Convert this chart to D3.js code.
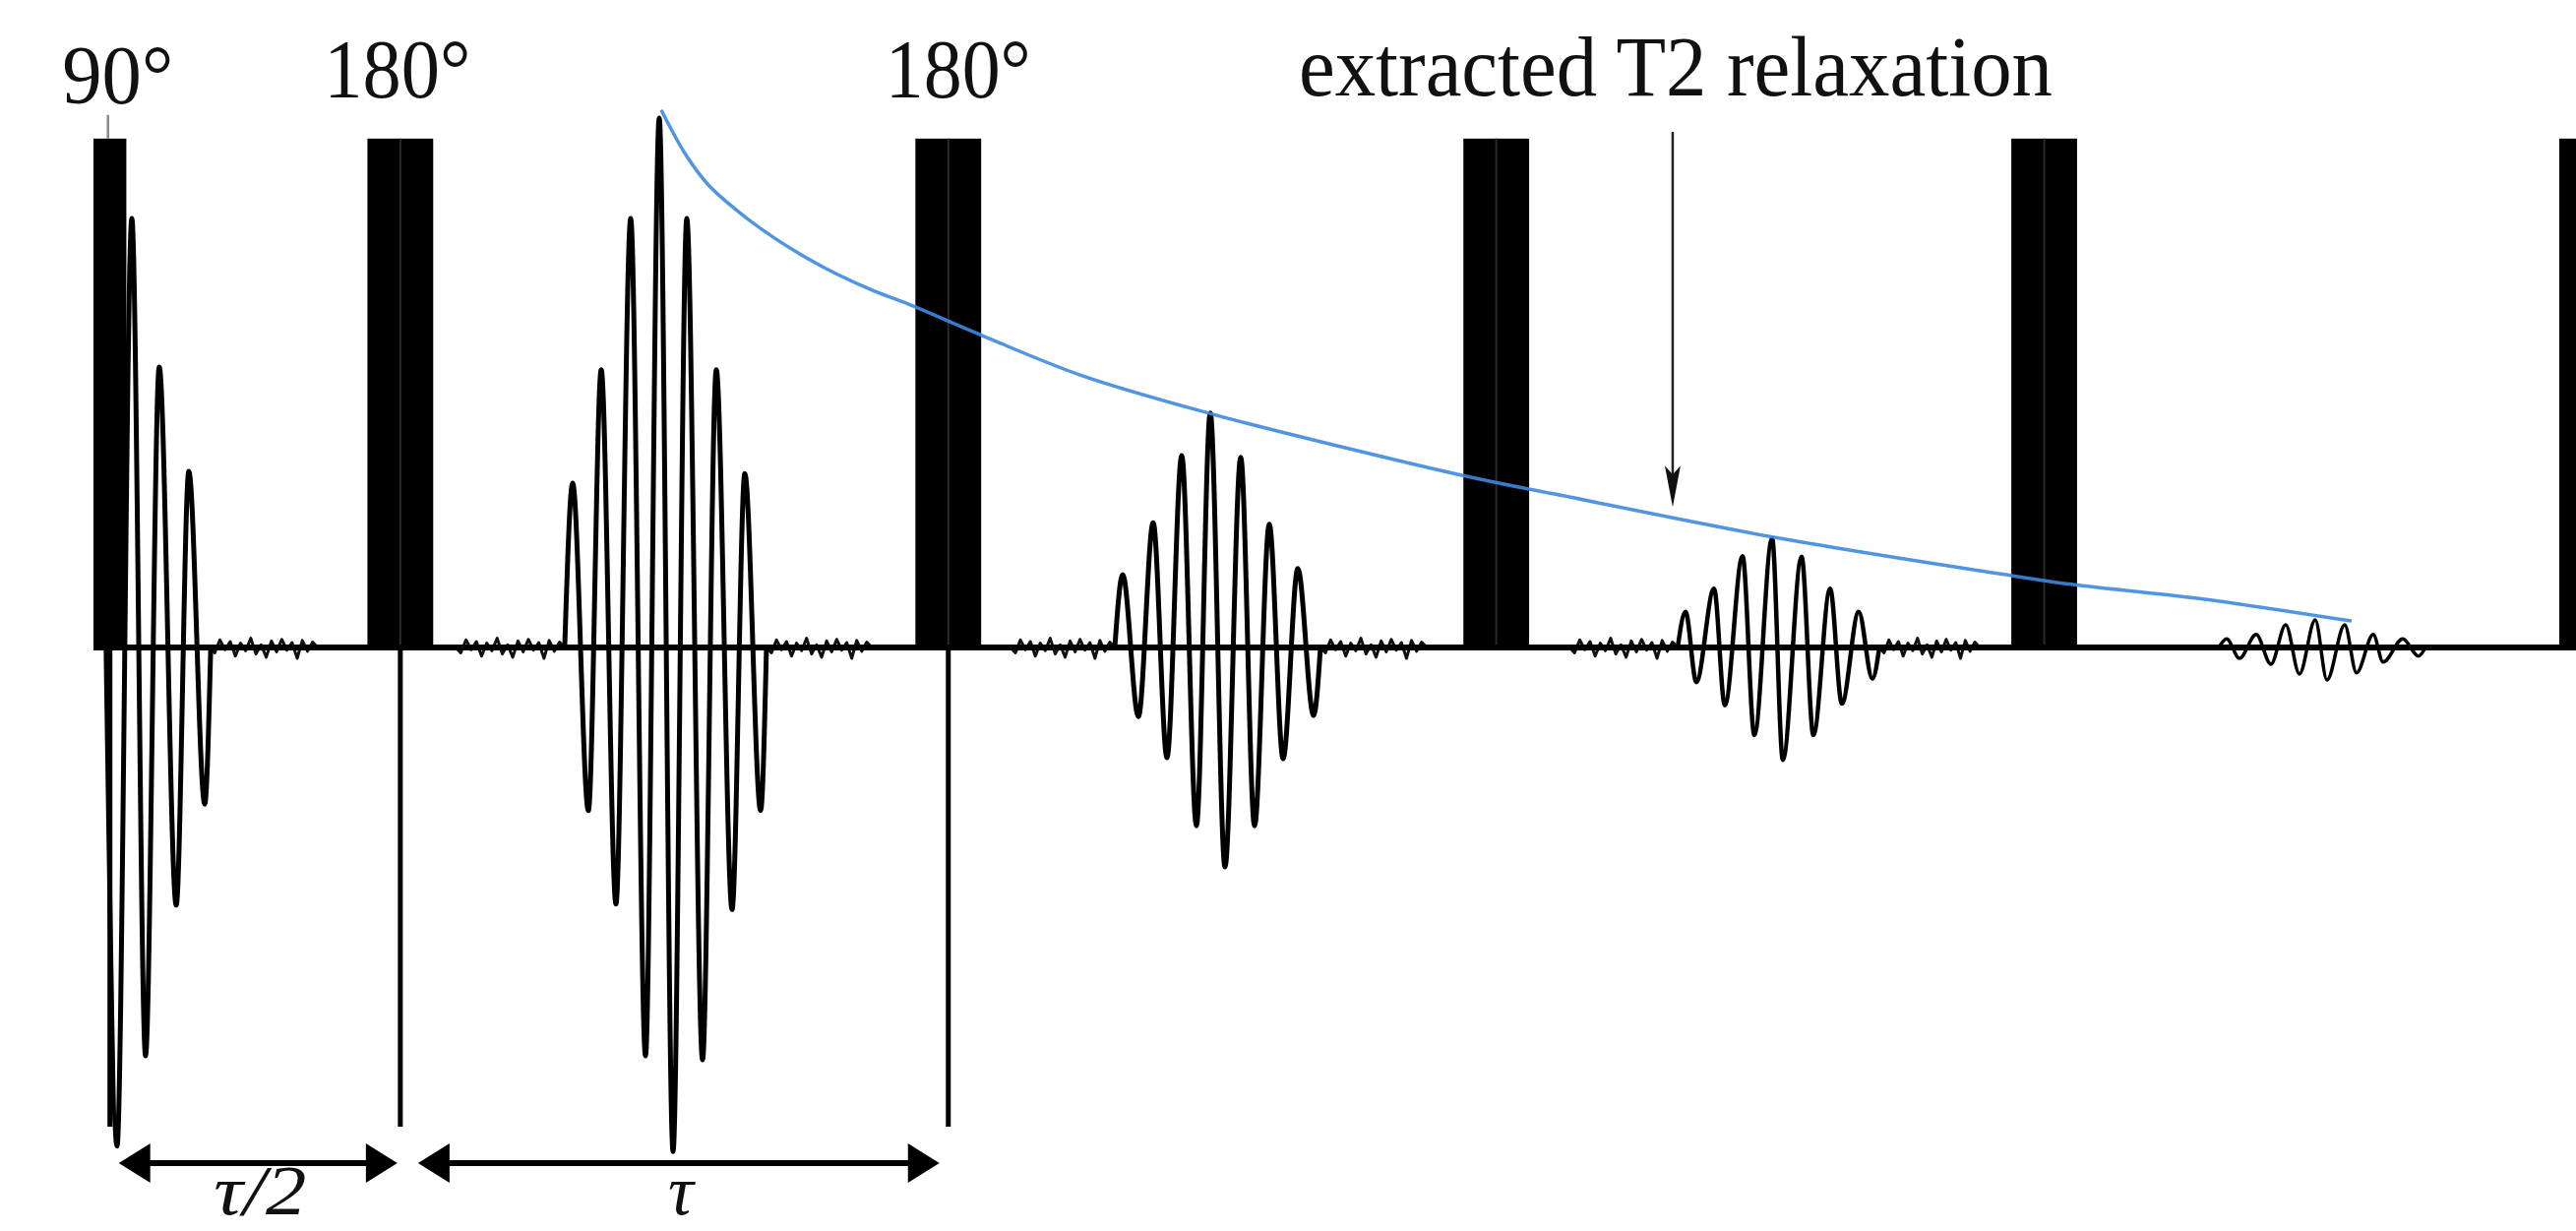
<!DOCTYPE html>
<html><head><meta charset="utf-8">
<script src="https://cdn.jsdelivr.net/npm/d3@7"></script>
<style>html,body{margin:0;padding:0;background:#fff;overflow:hidden}</style>
</head><body><svg id="c" width="2618" height="1251"></svg>
<script>
// ---------------- data (time in units of τ, amplitude normalised) ----------------
const pulseTimes  = [0, 0.5, 1.5, 2.5, 3.5, 4.5];
const pulseAngles = [90, 180, 180, 180, 180, 180];
const pulseLabels = ["90°", "180°", "180°", "", "", ""];
const pulseMarked = [true, true, true, false, false, false];  // marker line below the axis
const pulseDurPer90 = 0.06;      // pulse length for a 90° flip, in τ
const pulseAmp  = 0.942;         // RF pulse height
const pulseTail = -0.887;        // depth of the marker line

// FID after the 90° pulse
const fidT = [0.023, 0.043, 0.070, 0.095, 0.120, 0.151, 0.174, 0.203, 0.214];
const fidV = [0, -0.923, 0.794, -0.756, 0.519, -0.477, 0.326, -0.290, 0];

// spin echoes
const echoTimes = [
  [0.860, 0.8745, 0.9032, 0.9266, 0.9535, 0.9804, 1.0074, 1.0325, 1.0577, 1.0828, 1.1115, 1.1366, 1.1654, 1.1887, 1.2175, 1.2282],
  [1.8639, 1.8783, 1.9070, 1.9339, 1.9591, 1.9860, 2.0129, 2.0381, 2.0650, 2.0937, 2.1189, 2.1458, 2.1710, 2.1979, 2.2267, 2.2392],
  [2.8911, 2.9054, 2.9252, 2.9575, 2.9772, 3.0095, 3.0311, 3.0634, 3.0831, 3.1172, 3.1388, 3.1693, 3.1908, 3.2214, 3.2465, 3.2591],
  [3.8786, 3.8930, 3.9163, 3.9468, 3.9738, 4.0007, 4.0258, 4.0546, 4.0761, 4.1084, 4.1300, 4.1605, 4.1785, 4.2144, 4.2431, 4.2557]
];
const echoValues = [
  [0, 0.304, -0.302, 0.514, -0.475, 0.794, -0.756, 0.980, -0.933, 0.794, -0.763, 0.514, -0.485, 0.322, -0.302, 0],
  [0, 0.135, -0.128, 0.231, -0.204, 0.355, -0.330, 0.434, -0.406, 0.352, -0.330, 0.228, -0.206, 0.146, -0.126, 0],
  [0, 0.066, -0.064, 0.109, -0.107, 0.169, -0.162, 0.202, -0.208, 0.168, -0.162, 0.109, -0.104, 0.066, -0.058, 0],
  [0, 0.016, -0.020, 0.024, -0.031, 0.042, -0.049, 0.051, -0.060, 0.042, -0.047, 0.024, -0.027, 0.016, -0.016, 0]
];

// baseline noise
const noisePattern = [0.006, -0.010, 0.014, -0.004, 0.011, -0.016, 0.008, -0.006, 0.017, -0.012, 0.005,
                      -0.018, 0.012, -0.008, 0.015, -0.005, 0.009, -0.020, 0.013, -0.007, 0.010, -0.012];
const noiseStart = [0.2119, 0.6608, 1.2282, 1.6735, 2.2392, 2.6935, 3.2591];
const noiseEnd   = [0.4094, 0.8601, 1.4204, 1.8639, 2.4331, 2.8911, 3.4422];

// extracted T2 decay (envelope through echo maxima)
const decayT = [1.0361, 1.0810, 1.1223, 1.1815, 1.2426, 1.3018, 1.3611, 1.4222, 1.4814, 1.6251,
                1.8046, 2.0417, 2.2715, 2.5139, 2.6665, 3.0670, 3.4746, 3.6003, 3.8391, 4.1210];
const decayV = [0.995, 0.912, 0.856, 0.803, 0.758, 0.721, 0.689, 0.661, 0.638, 0.576,
                0.503, 0.432, 0.373, 0.315, 0.284, 0.204, 0.137, 0.118, 0.091, 0.049];

const annotationText = "extracted T2 relaxation";
const annotationT = 2.882;
const annotationV = 0.26;
const spanLabels = ["τ/2", "τ"];

// ---------------- drawing ----------------
const svg = d3.select("#c");
const x = d3.scaleLinear().domain([0, 4.5]).range([95, 2601]);
const y = d3.scaleLinear().domain([-1, 1]).range([1207, 109]);
const y0 = y(0);
const FONT = "'Liberation Serif', 'Times New Roman', serif";

const pulses = pulseTimes.map((t, i) => ({
  t, angle: pulseAngles[i], label: pulseLabels[i], marked: pulseMarked[i],
  x0: x(t), x1: x(t + pulseDurPer90 * pulseAngles[i] / 90)
}));
pulses.forEach(p => p.xc = (p.x0 + p.x1) / 2);

const wave = d3.line().x(d => x(d[0])).y(d => y(d[1])).curve(d3.curveMonotoneX);
const smooth = d3.line().x(d => x(d[0])).y(d => y(d[1])).curve(d3.curveCatmullRom.alpha(0.5));
const jag = d3.line().x(d => x(d[0])).y(d => y(d[1]));

const g = svg.append("g");

// noise segments
noiseStart.forEach((s, i) => {
  const e = noiseEnd[i];
  const n = noisePattern.length;
  const pts = noisePattern.map((v, k) => [s + (e - s) * k / (n - 1), (k === 0 || k === n - 1) ? 0 : v]);
  g.append("path").attr("d", jag(pts)).attr("fill", "none")
    .attr("stroke", "#111").attr("stroke-width", 3).attr("stroke-linejoin", "round");
});

// baseline
g.append("line").attr("x1", x(0)).attr("x2", 2618).attr("y1", y0).attr("y2", y0)
  .attr("stroke", "#000").attr("stroke-width", 6);

// FID + echoes
g.append("path").attr("d", wave(fidT.map((t, i) => [t, fidV[i]])))
  .attr("fill", "none").attr("stroke", "#000").attr("stroke-width", 5);
const echoStroke = [5, 5, 4.5, 3.5];
echoTimes.forEach((ts, j) => {
  g.append("path").attr("d", wave(ts.map((t, i) => [t, echoValues[j][i]])))
    .attr("fill", "none").attr("stroke", "#000").attr("stroke-width", echoStroke[j]);
});

// pulses
pulses.forEach(p => {
  if (p.marked) {
    g.append("line").attr("x1", p.xc).attr("x2", p.xc).attr("y1", y0).attr("y2", y(pulseTail))
      .attr("stroke", "#000").attr("stroke-width", 5);
  }
  g.append("rect").attr("x", p.x0).attr("y", y(pulseAmp)).attr("width", p.x1 - p.x0)
    .attr("height", y0 + 3 - y(pulseAmp)).attr("fill", "#000");
  if (p.angle === 180) {
    g.append("line").attr("x1", p.xc).attr("x2", p.xc).attr("y1", y(pulseAmp)).attr("y2", y0 - 3)
      .attr("stroke", "#2a2a2a").attr("stroke-width", 2);
  }
});

// 90° tick
g.append("line").attr("x1", pulses[0].xc - 2).attr("x2", pulses[0].xc - 2)
  .attr("y1", y(pulseAmp) - 24).attr("y2", y(pulseAmp))
  .attr("stroke", "#8a8a8a").attr("stroke-width", 2.5);

// T2 decay curve
g.append("path").attr("d", smooth(decayT.map((t, i) => [t, decayV[i]])))
  .attr("fill", "none").attr("stroke", "#3d8ae0").attr("stroke-width", 3.5).attr("opacity", 0.9);

// pulse labels
const labelDx = [8, -3, 10];
const labelBase = [105, 99, 99];
const labelW = [113, 149, 148];
pulses.filter(p => p.label).forEach((p, i) => {
  g.append("text").attr("x", p.xc + labelDx[i]).attr("y", labelBase[i])
    .attr("text-anchor", "middle").attr("font-family", FONT).attr("font-size", 85)
    .attr("textLength", labelW[i]).attr("lengthAdjust", "spacingAndGlyphs")
    .attr("fill", "#111").text(p.label);
});

// annotation
const ax = x(annotationT);
g.append("text").attr("x", ax + 3).attr("y", 97).attr("text-anchor", "middle")
  .attr("font-family", FONT).attr("font-size", 86)
  .attr("textLength", 766).attr("lengthAdjust", "spacingAndGlyphs")
  .attr("fill", "#111").text(annotationText);
const tipY = y(annotationV);
g.append("line").attr("x1", ax).attr("x2", ax).attr("y1", 134).attr("y2", tipY - 30)
  .attr("stroke", "#222").attr("stroke-width", 2.5);
g.append("path").attr("d", `M${ax},${tipY} L${ax - 8},${tipY - 42} L${ax},${tipY - 33} L${ax + 8},${tipY - 42} Z`)
  .attr("fill", "#111");

// span arrows
const arrowY = 1182;
const spans = [[pulses[0].xc + 9, pulses[1].xc - 3], [pulses[1].xc + 18, pulses[2].xc - 9]];
spans.forEach((s, i) => {
  const [a, b] = s, L = 32, H = 20;
  g.append("line").attr("x1", a + L - 2).attr("x2", b - L + 2).attr("y1", arrowY).attr("y2", arrowY)
    .attr("stroke", "#000").attr("stroke-width", 6);
  g.append("path").attr("d", `M${a},${arrowY} L${a + L},${arrowY - H} L${a + L},${arrowY + H} Z`).attr("fill", "#000");
  g.append("path").attr("d", `M${b},${arrowY} L${b - L},${arrowY - H} L${b - L},${arrowY + H} Z`).attr("fill", "#000");
  const t = g.append("text").attr("x", (a + b) / 2 + 2).attr("y", 1234).attr("text-anchor", "middle")
    .attr("font-family", FONT).attr("font-style", "italic").attr("font-size", 72)
    .attr("fill", "#111").text(spanLabels[i]);
  if (i === 0) t.attr("textLength", 94).attr("lengthAdjust", "spacingAndGlyphs");
});
</script>
</body></html>
